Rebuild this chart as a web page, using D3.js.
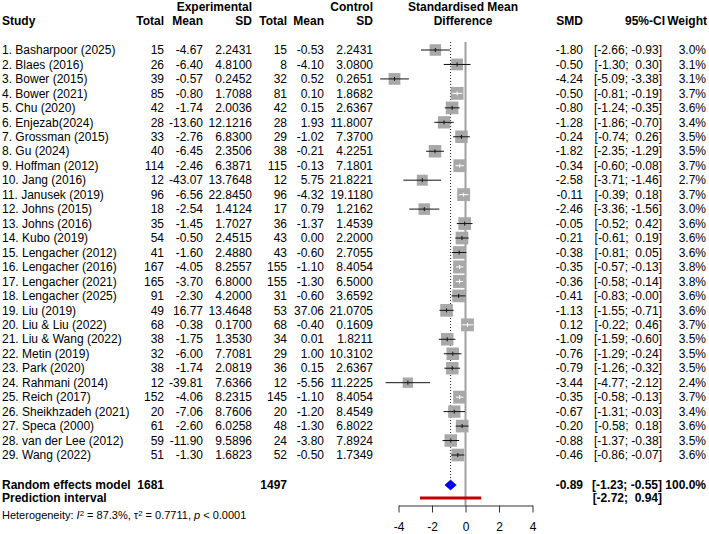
<!DOCTYPE html>
<html>
<head>
<meta charset="utf-8">
<script src="https://cdn.jsdelivr.net/npm/d3@7"></script>
<style>
  body { margin: 0; background: #fff; }
  svg { font-family: "Liberation Sans", Arial, sans-serif; }
  text { white-space: pre; }
</style>
</head>
<body>
<div id="chart"></div>
<script>
// study rows
var studies = ["1. Basharpoor (2025)", "2. Blaes (2016)", "3. Bower (2015)", "4. Bower (2021)", "5. Chu (2020)",
  "6. Enjezab(2024)", "7. Grossman (2015)", "8. Gu (2024)", "9. Hoffman (2012)", "10. Jang (2016)",
  "11. Janusek (2019)", "12. Johns (2015)", "13. Johns (2016)", "14. Kubo (2019)", "15. Lengacher (2012)",
  "16. Lengacher (2016)", "17. Lengacher (2021)", "18. Lengacher (2025)", "19. Liu (2019)", "20. Liu & Liu (2022)",
  "21. Liu & Wang (2022)", "22. Metin (2019)", "23. Park (2020)", "24. Rahmani (2014)", "25. Reich (2017)",
  "26. Sheikhzadeh (2021)", "27. Speca (2000)", "28. van der Lee (2012)", "29. Wang (2022)"];
var expTotal = [15, 26, 39, 85, 42, 28, 33, 40, 114, 12, 96, 18, 35, 54, 41, 167, 165, 91, 49, 68, 38, 32, 38, 12, 152, 20, 61, 59, 51];
var expMean = ["-4.67", "-6.40", "-0.57", "-0.80", "-1.74", "-13.60", "-2.76", "-6.45", "-2.46", "-43.07", "-6.56", "-2.54", "-1.45", "-0.50", "-1.60",
  "-4.05", "-3.70", "-2.30", "16.77", "-0.38", "-1.75", "-6.00", "-1.74", "-39.81", "-4.06", "-7.06", "-2.60", "-11.90", "-1.30"];
var expSD = ["2.2431", "4.8100", "0.2452", "1.7088", "2.0036", "12.1216", "6.8300", "2.3506", "6.3871", "13.7648", "22.8450", "1.4124", "1.7027", "2.4515", "2.4880",
  "8.2557", "6.8000", "4.2000", "13.4648", "0.1700", "1.3530", "7.7081", "2.0819", "7.6366", "8.2315", "8.7606", "6.0258", "9.5896", "1.6823"];
var ctlTotal = [15, 8, 32, 81, 42, 28, 29, 38, 115, 12, 96, 17, 36, 43, 43, 155, 155, 31, 53, 68, 34, 29, 36, 12, 145, 20, 48, 24, 52];
var ctlMean = ["-0.53", "-4.10", "0.52", "0.10", "0.15", "1.93", "-1.02", "-0.21", "-0.13", "5.75", "-4.32", "0.79", "-1.37", "0.00", "-0.60",
  "-1.10", "-1.30", "-0.60", "37.06", "-0.40", "0.01", "1.00", "0.15", "-5.56", "-1.10", "-1.20", "-1.30", "-3.80", "-0.50"];
var ctlSD = ["2.2431", "3.0800", "0.2651", "1.8682", "2.6367", "11.8007", "7.3700", "4.2251", "7.1801", "21.8221", "19.1180", "1.2162", "1.4539", "2.2000", "2.7055",
  "8.4054", "6.5000", "3.6592", "21.0705", "0.1609", "1.8211", "10.3102", "2.6367", "11.2225", "8.4054", "8.4549", "6.8022", "7.8924", "1.7349"];
var smd = [-1.80, -0.50, -4.24, -0.50, -0.80, -1.28, -0.24, -1.82, -0.34, -2.58, -0.11, -2.46, -0.05, -0.21, -0.38,
  -0.35, -0.36, -0.41, -1.13, 0.12, -1.09, -0.76, -0.79, -3.44, -0.35, -0.67, -0.20, -0.88, -0.46];
var ciLow = [-2.66, -1.30, -5.09, -0.81, -1.24, -1.86, -0.74, -2.35, -0.60, -3.71, -0.39, -3.36, -0.52, -0.61, -0.81,
  -0.57, -0.58, -0.83, -1.55, -0.22, -1.59, -1.29, -1.26, -4.77, -0.58, -1.31, -0.58, -1.37, -0.86];
var ciHigh = [-0.93, 0.30, -3.38, -0.19, -0.35, -0.70, 0.26, -1.29, -0.08, -1.46, 0.18, -1.56, 0.42, 0.19, 0.05,
  -0.13, -0.14, -0.00, -0.71, 0.46, -0.60, -0.24, -0.32, -2.12, -0.13, -0.03, 0.18, -0.38, -0.07];
var weight = [3.0, 3.1, 3.1, 3.7, 3.6, 3.4, 3.5, 3.5, 3.7, 2.7, 3.7, 3.0, 3.6, 3.6, 3.6,
  3.8, 3.8, 3.6, 3.6, 3.7, 3.5, 3.5, 3.5, 2.4, 3.7, 3.4, 3.6, 3.5, 3.6];

// pooled results
var pooled = {smd: -0.89, lo: -1.23, hi: -0.55, expN: 1681, ctlN: 1497};
var predInt = [-2.72, 0.94];
var xTicks = [-4, -2, 0, 2, 4];

var width = 709, height = 534;
var svg = d3.select("#chart").append("svg")
  .attr("width", width).attr("height", height);

var x = d3.scaleLinear().domain([-4, 4]).range([398.5, 532.5]);
var y = d3.scaleLinear().domain([0, studies.length - 1]).range([50, 455]);
var side = d3.scaleSqrt().domain([0, 3.8]).range([0, 13]);
var yRE = 485, yPI = 498, yAxis = 505.5;

// plain hyphen minus, keep "-0.00" as printed
function f2(v) { return Object.is(v, -0) ? "-0.00" : v.toFixed(2); }
function ci(lo, hi) { return "[" + f2(lo).padStart(5) + "; " + f2(hi).padStart(5) + "]"; }

function txt(xp, yp, s, anchor, bold) {
  return svg.append("text").attr("x", xp).attr("y", yp).attr("dy", "0.35em")
    .attr("font-size", 12).attr("text-anchor", anchor || "start")
    .attr("font-weight", bold ? "bold" : null).text(s);
}

// headers
txt(252, 7, "Experimental", "end", true);
txt(373, 7, "Control", "end", true);
txt(463, 7, "Standardised Mean", "middle", true);
txt(2, 21, "Study", "start", true);
txt(164, 21, "Total", "end", true);
txt(203, 21, "Mean", "end", true);
txt(252, 21, "SD", "end", true);
txt(287, 21, "Total", "end", true);
txt(324, 21, "Mean", "end", true);
txt(373, 21, "SD", "end", true);
txt(463, 21, "Difference", "middle", true);
txt(583, 21, "SMD", "end", true);
txt(665, 21, "95%-CI", "end", true);
txt(707, 21, "Weight", "end", true);

// table columns
var cols = [
  {x: 2, a: "start", v: studies},
  {x: 164, a: "end", v: expTotal},
  {x: 203, a: "end", v: expMean},
  {x: 252, a: "end", v: expSD},
  {x: 287, a: "end", v: ctlTotal},
  {x: 324, a: "end", v: ctlMean},
  {x: 373, a: "end", v: ctlSD},
  {x: 583, a: "end", v: smd.map(f2)},
  {x: 662, a: "end", v: smd.map(function(d, i) { return ci(ciLow[i], ciHigh[i]); })},
  {x: 706, a: "end", v: weight.map(function(d) { return d.toFixed(1) + "%"; })}
];
cols.forEach(function(c) {
  svg.append("g").selectAll("text").data(c.v).enter().append("text")
    .attr("x", c.x).attr("y", function(d, i) { return y(i); }).attr("dy", "0.35em")
    .attr("font-size", 12).attr("text-anchor", c.a).text(function(d) { return d; });
});

// reference lines
svg.append("line")
  .attr("x1", x(0)).attr("x2", x(0)).attr("y1", 42).attr("y2", yAxis)
  .attr("stroke", "#a0a0a0").attr("stroke-width", 2);
svg.append("line")
  .attr("x1", x(pooled.smd)).attr("x2", x(pooled.smd)).attr("y1", 42).attr("y2", yRE - 5)
  .attr("stroke", "#222").attr("stroke-width", 1).attr("stroke-dasharray", "1,2");

// squares + CI lines
var rows = svg.append("g").selectAll("g").data(smd).enter().append("g");
rows.append("rect")
  .attr("x", function(d, i) { return x(d) - side(weight[i]) / 2; })
  .attr("y", function(d, i) { return y(i) - side(weight[i]) / 2; })
  .attr("width", function(d, i) { return side(weight[i]); })
  .attr("height", function(d, i) { return side(weight[i]); })
  .attr("fill", "#a8a8a8");
function inside(d, i) {
  var h = side(weight[i]) / 2;
  return x(ciLow[i]) >= x(d) - h && x(ciHigh[i]) <= x(d) + h;
}
rows.append("line")
  .attr("x1", function(d, i) { return x(ciLow[i]); })
  .attr("x2", function(d, i) { return x(ciHigh[i]); })
  .attr("y1", function(d, i) { return y(i); })
  .attr("y2", function(d, i) { return y(i); })
  .attr("stroke", function(d, i) { return inside(d, i) ? "#fff" : "#111"; })
  .attr("stroke-width", 1);
rows.append("line")
  .attr("x1", function(d) { return x(d); }).attr("x2", function(d) { return x(d); })
  .attr("y1", function(d, i) { return y(i) - 2; })
  .attr("y2", function(d, i) { return y(i) + 2; })
  .attr("stroke", function(d, i) { return inside(d, i) ? "#fff" : "#111"; })
  .attr("stroke-width", 1);

// pooled diamond
svg.append("path")
  .attr("d", "M" + x(pooled.lo) + "," + yRE + "L" + x(pooled.smd) + "," + (yRE - 5) +
    "L" + x(pooled.hi) + "," + yRE + "L" + x(pooled.smd) + "," + (yRE + 5) + "Z")
  .attr("fill", "#0000ff").attr("stroke", "#0000aa").attr("stroke-width", 0.6);

// prediction interval
svg.append("line")
  .attr("x1", x(predInt[0])).attr("x2", x(predInt[1]))
  .attr("y1", yPI).attr("y2", yPI)
  .attr("stroke", "#c00000").attr("stroke-width", 3);

// axis
var axis = d3.axisBottom(x).tickValues(xTicks).tickSize(7).tickPadding(10).tickSizeOuter(0)
  .tickFormat(function(d) { return String(d); });
var ag = svg.append("g").attr("transform", "translate(0," + yAxis + ")").call(axis);
ag.select(".domain").attr("stroke", "#333");
ag.selectAll(".tick line").attr("stroke", "#333");
ag.selectAll(".tick text").attr("font-size", 12).attr("font-family", "Liberation Sans, Arial, sans-serif").attr("fill", "#000");

// pooled rows text
txt(2, yRE, "Random effects model", "start", true);
txt(164, yRE, String(pooled.expN), "end", true);
txt(287, yRE, String(pooled.ctlN), "end", true);
txt(583, yRE, f2(pooled.smd), "end", true);
txt(662, yRE, ci(pooled.lo, pooled.hi), "end", true);
txt(706, yRE, "100.0%", "end", true);
txt(2, yPI, "Prediction interval", "start", true);
txt(662, yPI, ci(predInt[0], predInt[1]), "end", true);

// heterogeneity
var het = svg.append("text").attr("x", 2).attr("y", 515.5).attr("dy", "0.35em").attr("font-size", 11);
het.append("tspan").text("Heterogeneity: ");
het.append("tspan").attr("font-style", "italic").text("I");
het.append("tspan").attr("font-size", 7.8).attr("dy", "-0.45em").text("2");
het.append("tspan").attr("dy", "0.3em").text(" = 87.3%, \u03c4");
het.append("tspan").attr("font-size", 7.8).attr("dy", "-0.45em").text("2");
het.append("tspan").attr("dy", "0.3em").text(" = 0.7711, ");
het.append("tspan").attr("font-style", "italic").text("p");
het.append("tspan").text(" < 0.0001");
</script>
</body>
</html>
